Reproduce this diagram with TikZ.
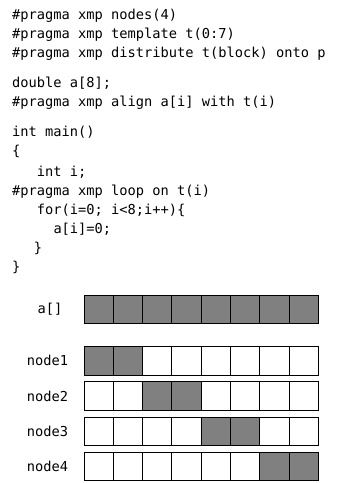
\documentclass[tikz,border=0pt]{standalone}
\usepackage{fontspec}
\newfontfamily\codefont{DejaVu Sans Mono}
\definecolor{blockgray}{HTML}{808080}
\tikzset{
  code/.style={font=\codefont\fontsize{13.7}{16}\selectfont, anchor=base west, inner sep=0pt, outer sep=0pt},
  label/.style={code, anchor=base},
  cell/.style={draw=black, line width=1pt, fill=white, minimum width=29.29pt, minimum height=28.4pt, inner sep=0pt, outer sep=0pt},
  owned/.style={cell, fill=blockgray}
}
\begin{document}
\begin{tikzpicture}[x=1pt, y=-1pt]
  \useasboundingbox (0,0) rectangle (337,483);

  % source listing
  \node[code] (l1)  at (12.2,19)  {\#pragma xmp nodes(4)};
  \node[code] (l2)  at (12.2,38)  {\#pragma xmp template t(0:7)};
  \node[code] (l3)  at (12.2,57)  {\#pragma xmp distribute t(block) onto p};
  \node[code] (l4)  at (12.2,87)  {double a[8];};
  \node[code] (l5)  at (12.2,106) {\#pragma xmp align a[i] with t(i)};
  \node[code] (l6)  at (12.2,136) {int main()};
  \node[code] (l7)  at (12.2,155) {\{};
  \node[code] (l8)  at (37.0,176) {int i;};
  \node[code] (l9)  at (12.2,195) {\#pragma xmp loop on t(i)};
  \node[code] (l10) at (37.0,214) {for(i=0; i<8;i++)\{};
  \node[code] (l11) at (53.5,233) {a[i]=0;};
  \node[code] (l12) at (34.0,252) {\}};
  \node[code] (l13) at (12.2,271) {\}};

  % array a[] and its block distribution over four nodes
  \node[label] (la) at (50,313.7) {a[]};
  \foreach \i in {0,...,7}
    \node[owned] (a\i) at ({84+29.29*(\i+0.5)},309.2) {};

  \foreach \n/\y in {1/360.9, 2/396.0, 3/431.7, 4/466.7} {
    \node[label] (ln\n) at (47.4,\y+5) {node\n};
    \foreach \i in {0,...,7} {
      \pgfmathtruncatemacro{\own}{int(\i/2)+1 == \n ? 1 : 0}
      \ifnum\own=1
        \node[owned] (n\n c\i) at ({84+29.29*(\i+0.5)},\y) {};
      \else
        \node[cell] (n\n c\i) at ({84+29.29*(\i+0.5)},\y) {};
      \fi
    }
  }
\end{tikzpicture}
\end{document}
